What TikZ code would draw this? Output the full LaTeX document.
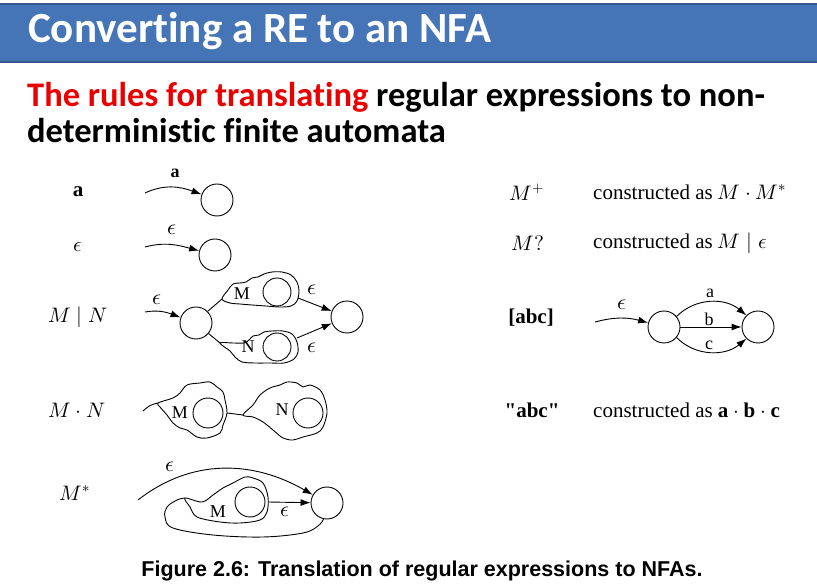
\documentclass[tikz,border=0pt]{standalone}
\usepackage{fontspec}
\usepackage{unicode-math}
\setmainfont{Liberation Serif}
\newfontfamily\slidefont[Ligatures=NoCommon]{Carlito}
\newfontfamily\capfont{Liberation Sans}
\newfontfamily\quotefont[Ligatures=TeXOff]{Liberation Serif}
\usetikzlibrary{arrows.meta}
\definecolor{hdrblue}{RGB}{69,117,183}
\definecolor{hdrline}{RGB}{52,88,140}
\definecolor{slidered}{RGB}{235,0,0}

\begin{document}
\begin{tikzpicture}[x=1pt, y=1pt,
  st/.style={circle, draw, line width=0.9pt, minimum size=32pt, inner sep=0pt},
  sub/.style={st, minimum size=28pt},
  arr/.style={-{Latex[length=10pt,width=7pt]}, line width=0.9pt},
  blob/.style={line width=0.9pt},
  txt/.style={font=\fontsize{21}{25}\selectfont, inner sep=0pt},
  lab/.style={font=\fontsize{18}{22}\selectfont, inner sep=0pt},
  eps/.style={font=\fontsize{22}{26}\selectfont, inner sep=0pt}]
\useasboundingbox (0,0) rectangle (817,584);
\fill[white] (0,0) rectangle (817,584);
\draw[fill=hdrblue, draw=hdrline, line width=1.5pt] (-1,522) rectangle (818,580);
\node[anchor=base west, text=white, inner sep=0pt, font=\slidefont\bfseries\fontsize{43}{50}\selectfont] (title) at (28,541) {Converting a RE to an NFA};
\node[anchor=base west, inner sep=0pt, font=\slidefont\bfseries\fontsize{34.5}{40}\selectfont] (sub1) at (27,477) {\textcolor{slidered}{The rules for translating} regular expressions to non-};
\node[anchor=base west, inner sep=0pt, font=\slidefont\bfseries\fontsize{34.5}{40}\selectfont] (sub2) at (27,441) {deterministic finite automata};
\node[anchor=base, inner sep=0pt, font=\capfont\bfseries\fontsize{21.5}{26}\selectfont] (cap) at (422,8) {Figure 2.6: Translation of regular expressions to NFAs.};

\node[txt] (la) at (78,392) {\textbf{a}};
\node[txt] (le) at (78,337) {$\epsilon$};
\node[txt] (lmn) at (78,267) {$M\mid N$};
\node[txt] (lmdn) at (77,174) {$M\cdot N$};
\node[txt] (lms) at (75,91) {$M^*$};
\node[txt] (lp) at (527,392) {$M^+$};
\node[txt, anchor=west] (cp) at (593,392) {constructed as $M\cdot M^*$};
\node[txt] (lq) at (528,341) {$M?$};
\node[txt, anchor=west] (cq) at (593,341) {constructed as $M\mid\epsilon$};
\node[txt] (lb) at (531,266) {\textbf{[abc]}};
\node[txt] (ls) at (532,174) {\quotefont\bfseries "abc"};
\node[txt, anchor=west] (cs) at (593,174) {constructed as $\mathbf{a}\cdot\mathbf{b}\cdot\mathbf{c}$};

\node[st] (sa) at (217,384) {};
\coordinate (ia) at (145,391);
\draw[arr] (ia) to[out=25,in=160] (sa);
\node[lab] (ta) at (175,411) {\textbf{a}};

\node[st] (se) at (215,329) {};
\coordinate (ie) at (145,337);
\draw[arr] (ie) to[out=15,in=165] (se);
\node[eps] (te) at (172,354) {$\epsilon$};

\node[st] (s1) at (196,261) {};
\node[st] (f1) at (347,267) {};
\node[sub] (m1) at (277,292) {};
\node[sub] (n1) at (277,237) {};
\coordinate (i1) at (145,272);
\draw[arr] (i1) to[out=10,in=160] (s1);
\node[eps] (t1) at (157,284) {$\epsilon$};
\draw[blob] (s1.45) -- (222,285);
\draw[blob] plot[smooth cycle, tension=0.55] coordinates {(222,285) (228,294) (233,300) (240,301) (246,302) (252,306) (258,307) (264,310) (272,312) (282,312) (291,309) (297,302) (299,293) (297,283) (291,278) (280,277) (266,278) (252,279) (240,280) (230,281)};
\draw[blob] (s1.-40) -- (220,241);
\draw[blob] plot[smooth cycle, tension=0.55] coordinates {(220,241) (233,241) (244,241) (249,244) (253,248) (259,249) (264,252) (272,253) (283,253) (292,250) (297,242) (298,232) (294,225) (284,221) (270,221) (255,221) (242,222) (235,227) (230,233)};
\node[lab] (tm1) at (242,290) {M};
\node[lab] (tn1) at (248,237) {N};
\coordinate (mo1) at (298,286);
\coordinate (no1) at (297,246);
\draw[arr] (mo1) -- (f1);
\draw[arr] (no1) -- (f1);
\node[eps] (tme) at (312,294) {$\epsilon$};
\node[eps] (tne) at (312,236) {$\epsilon$};

\node[st, minimum size=30pt] (m2) at (208,171) {};
\node[st, minimum size=30pt] (n2) at (308,171) {};
\coordinate (i2) at (143,173);
\draw[blob] (i2) .. controls (150,179) .. (158,181);
\draw[blob] plot[smooth cycle, tension=0.55] coordinates {(158,181) (173,186) (180,191) (187,199) (200,201) (210,202) (217,197) (223,192) (225,184) (227,171) (223,159) (220,151) (207,146) (197,147) (187,154) (180,156) (173,161) (167,169) (160,177)};
\draw[blob] (227,171) -- (243,169);
\draw[blob] plot[smooth cycle, tension=0.55] coordinates {(243,169) (253,179) (260,189) (270,196) (280,199) (287,202) (297,201) (303,197) (310,199) (320,194) (325,184) (327,171) (323,157) (317,151) (303,147) (293,144) (283,146) (273,154) (263,162) (253,167)};
\node[lab] (tm2) at (180,171) {M};
\node[lab] (tn2) at (282,174) {N};

\node[st] (f3) at (327,81) {};
\node[st, minimum size=30pt] (m3) at (250,82) {};
\coordinate (i3) at (138,84);
\draw[arr] (i3) to[out=38,in=150] (f3);
\node[eps] (t3) at (170,117) {$\epsilon$};
\draw[blob] plot[smooth cycle, tension=0.55] coordinates {(185,86) (202,82) (213,89) (223,96) (233,101) (245,107) (253,106) (263,101) (268,87) (267,72) (260,64) (240,61) (220,62) (197,67) (190,77)};
\draw[blob] plot[smooth, tension=0.6] coordinates {(185,86) (177,84) (167,77) (165,67) (173,56) (213,49) (263,47) (303,51) (318,58) (f3.258)};
\coordinate (mo3) at (268,82);
\draw[arr] (mo3) -- (f3);
\node[lab] (tm3) at (218,72) {M};
\node[eps] (tme3) at (285,72) {$\epsilon$};

\node[st] (s4) at (664,257) {};
\node[st] (f4) at (758,257) {};
\coordinate (i4) at (595,262);
\draw[arr] (i4) to[out=15,in=165] (s4);
\node[eps] (t4) at (622,279) {$\epsilon$};
\draw[arr] (s4.40) to[out=45,in=140] (f4.135);
\draw[arr] (s4) -- (f4);
\draw[arr] (s4.-40) to[out=-45,in=-140] (f4.-135);
\node[lab] (ta4) at (710,291) {a};
\node[lab] (tb4) at (709,265) {b};
\node[lab] (tc4) at (709,239) {c};
\end{tikzpicture}
\end{document}
